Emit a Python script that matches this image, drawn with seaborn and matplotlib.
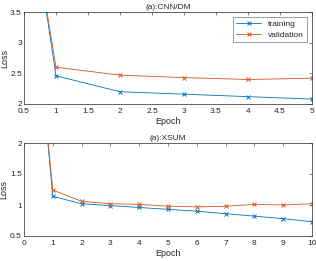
import numpy as np
import pandas as pd
import seaborn as sns
import matplotlib
matplotlib.use("Agg")
import matplotlib.pyplot as plt

# loss curves (epoch 0 values are off the top of the axes)
cnn_epochs = [0, 1, 2, 3, 4, 5]
cnn_train = [9.4, 2.46, 2.20, 2.16, 2.12, 2.08]
cnn_valid = [9.0, 2.60, 2.47, 2.43, 2.40, 2.42]

xsum_epochs = [0, 1, 2, 3, 4, 5, 6, 7, 8, 9, 10]
xsum_train = [6.2, 1.14, 1.02, 0.99, 0.96, 0.93, 0.90, 0.86, 0.82, 0.78, 0.73]
xsum_valid = [6.0, 1.24, 1.06, 1.02, 1.01, 0.98, 0.97, 0.98, 1.01, 1.00, 1.02]

sns.set_style("white")
plt.rcParams['font.family'] = ['Liberation Sans', 'DejaVu Sans']

blue = "#0072BD"
orange = "#D95319"
fs = 6

fig = plt.figure(figsize=(3.16, 2.61), dpi=100)
ax1 = fig.add_axes([24/316, 1 - 104/261, 288/316, 92/261])
ax2 = fig.add_axes([24/316, 1 - 236/261, 288/316, 93/261])

def draw(ax, ep, tr, va, title, xlim, xticks, ylim, yticks, legend):
    for y, c, lab in [(tr, blue, 'training'), (va, orange, 'validation')]:
        sns.lineplot(x=ep, y=y, ax=ax, color=c, marker='x', markersize=3,
                     markeredgecolor=c, markeredgewidth=0.7, linewidth=0.6,
                     label=lab, clip_on=True)
    ax.set_xlim(*xlim)
    ax.set_ylim(*ylim)
    ax.set_xticks(xticks)
    ax.set_yticks(yticks)
    ax.set_xticklabels([('%g' % t) for t in xticks], fontsize=fs, color='#262626')
    ax.set_yticklabels([('%g' % t) for t in yticks], fontsize=fs, color='#262626')
    ax.set_title(title, fontsize=fs, pad=2, color='#262626')
    ax.set_xlabel('Epoch', fontsize=fs + 0.5, labelpad=1, color='#262626')
    ax.set_ylabel('Loss', fontsize=fs + 0.5, labelpad=1, color='#262626')
    ax.tick_params(direction='in', length=2, width=0.4, colors='#262626',
                   top=True, right=True)
    ax.tick_params(axis='y', pad=1.5)
    ax.tick_params(axis='x', pad=3)
    for s in ax.spines.values():
        s.set_linewidth(0.5)
        s.set_color('#262626')
    if legend:
        leg = ax.legend(loc='upper right', fontsize=fs, frameon=True, fancybox=False,
                        borderpad=0.4, handlelength=3, labelspacing=0.3,
                        borderaxespad=0.6)
        leg.get_frame().set_edgecolor('#262626')
        leg.get_frame().set_linewidth(0.4)
    else:
        ax.get_legend().remove()

draw(ax1, cnn_epochs, cnn_train, cnn_valid, '(a):CNN/DM', (0.5, 5),
     np.arange(0.5, 5.01, 0.5), (2, 3.5), [2, 2.5, 3, 3.5], True)
draw(ax2, xsum_epochs, xsum_train, xsum_valid, '(a):XSUM', (0, 10),
     range(0, 11), (0.5, 2), [0.5, 1, 1.5, 2], False)

fig.savefig("out.png", dpi=100)
